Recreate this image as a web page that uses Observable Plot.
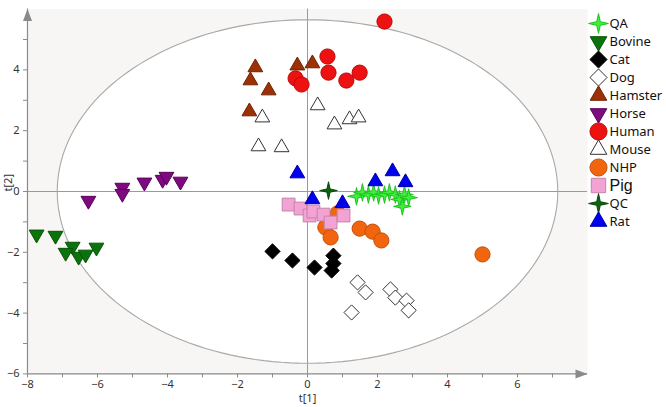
<!DOCTYPE html>
<html><head><meta charset="utf-8">
<script src="https://cdn.jsdelivr.net/npm/d3@7"></script>
<script src="https://cdn.jsdelivr.net/npm/@observablehq/plot@0.6"></script>
<style>
html,body{margin:0;padding:0;background:#fff;}
#wrap{position:relative;width:666px;height:407px;overflow:hidden;}
#legend{position:absolute;left:588px;top:0;}
#legend svg{background:transparent !important;}
</style></head>
<body><div id="wrap"><div id="chart"></div><div id="legend"></div></div>
<script>
// ---- data (t[1], t[2]) ----
const categories = ["QA","Bovine","Cat","Dog","Hamster","Horse","Human","Mouse","NHP","Pig","QC","Rat"];
const QA = [[1.40,-0.16],[1.57,-0.03],[1.74,-0.10],[1.89,-0.03],[2.03,-0.13],[2.20,-0.10],[2.34,-0.03],[2.51,-0.10],[2.63,-0.26],[2.77,-0.10],[2.89,-0.20],[2.71,-0.49]];
const Bovine = [[-7.74,-1.41],[-7.20,-1.45],[-6.71,-1.81],[-6.91,-2.01],[-6.54,-2.14],[-6.34,-2.07],[-6.03,-1.84]];
const Cat = [[-1.00,-1.97],[-0.43,-2.27],[0.20,-2.50],[0.74,-2.11],[0.74,-2.37],[0.69,-2.60]];
const Dog = [[1.43,-2.99],[1.66,-3.32],[2.37,-3.22],[2.51,-3.49],[2.83,-3.59],[2.89,-3.91],[1.26,-3.98]];
const Hamster = [[-1.49,4.08],[-1.63,3.65],[-1.11,3.32],[-1.66,2.63],[-0.29,4.14],[0.14,4.21]];
const Horse = [[-6.26,-0.30],[-5.29,0.13],[-5.29,-0.07],[-4.66,0.30],[-4.14,0.39],[-4.03,0.49],[-3.63,0.33]];
const Human = [[2.20,5.59],[0.57,4.44],[0.60,3.91],[1.11,3.65],[1.49,3.91],[-0.34,3.72],[-0.17,3.52]];
const Mouse = [[0.29,2.83],[-1.29,2.43],[0.77,2.20],[1.20,2.37],[1.46,2.43],[-1.40,1.48],[-0.74,1.45]];
const NHP = [[0.51,-1.18],[0.66,-1.51],[0.86,-0.72],[1.49,-1.22],[1.86,-1.32],[2.11,-1.61],[5.00,-2.07]];
const Pig = [[-0.54,-0.43],[-0.20,-0.56],[0.06,-0.79],[0.17,-0.66],[0.46,-0.76],[0.66,-1.02],[1.03,-0.79]];
const QC = [[0.60,0.03]];
const Rat = [[-0.29,0.59],[1.94,0.33],[2.43,0.66],[2.80,0.30],[0.14,-0.26],[1.00,-0.39]];
const xTicks = [-8,-6,-4,-2,0,2,4,6];
const yTicks = [-6,-4,-2,0,2,4];
const xMinorTicks = [-7,-5,-3,-1,1,3,5,7];
const yMinorTicks = [-5,-3,-1,1,3,5];
const xDomain = [-8, 8];
const yDomain = [-6, 6];
const ELL_A = 7.15, ELL_B = 5.65; // Hotelling T2 ellipse semi-axes

const series = {QA,Bovine,Cat,Dog,Hamster,Horse,Human,Mouse,NHP,Pig,QC,Rat};
const points = categories.flatMap(s => series[s].map(([x,y]) => ({s, x, y})));

// ---- symbols ----
const rad = size => Math.sqrt(size / Math.PI);
const symCircle = {draw(c,size){const r=rad(size)*0.95; c.moveTo(r,0); c.arc(0,0,r,0,2*Math.PI);}};
const symTriUp = {draw(c,size){const r=rad(size); const s=r*1.85, h=s*Math.sqrt(3)/2; c.moveTo(0,-2*h/3); c.lineTo(s/2,h/3); c.lineTo(-s/2,h/3); c.closePath();}};
const symTriDown = {draw(c,size){const r=rad(size); const s=r*1.85, h=s*Math.sqrt(3)/2; c.moveTo(0,2*h/3); c.lineTo(s/2,-h/3); c.lineTo(-s/2,-h/3); c.closePath();}};
const symDiamond = {draw(c,size){const r=rad(size)*0.95; c.moveTo(0,-r); c.lineTo(r,0); c.lineTo(0,r); c.lineTo(-r,0); c.closePath();}};
const symSquare = {draw(c,size){const h=rad(size)*0.8; c.moveTo(-h,-h); c.lineTo(h,-h); c.lineTo(h,h); c.lineTo(-h,h); c.closePath();}};
const symStar4 = {draw(c,size){const r=rad(size); const o=r*1.1, i=r*0.28;
  for(let k=0;k<8;k++){const a=-Math.PI/2+k*Math.PI/4; const rr=k%2?i:o; const px=rr*Math.cos(a), py=rr*Math.sin(a); if(k===0)c.moveTo(px,py); else c.lineTo(px,py);} c.closePath();}};
const symArrowRight = {draw(c){c.moveTo(0,0); c.lineTo(-12,-4.5); c.lineTo(-12,4.5); c.closePath();}};
const symArrowUp = {draw(c){c.moveTo(0,0); c.lineTo(-4.5,12); c.lineTo(4.5,12); c.closePath();}};

const symbolOf = {QA:symStar4,Bovine:symTriDown,Cat:symDiamond,Dog:symDiamond,Hamster:symTriUp,Horse:symTriDown,Human:symCircle,Mouse:symTriUp,NHP:symCircle,Pig:symSquare,QC:symStar4,Rat:symTriUp};
const fillOf = {QA:"#3cf03c",Bovine:"#0b730b",Cat:"#000000",Dog:"#ffffff",Hamster:"#9c3106",Horse:"#7e0a80",Human:"#ee1111",Mouse:"#ffffff",NHP:"#f2650f",Pig:"#f2a3d3",QC:"#0e620e",Rat:"#0000ee"};
const strokeOf = {QA:"#20c020",Bovine:"#075207",Cat:"#000000",Dog:"#333333",Hamster:"#6e2204",Horse:"#5a005c",Human:"#bb0808",Mouse:"#333333",NHP:"#c84e05",Pig:"#c583a9",QC:"#0a480a",Rat:"#0000a8"};

const symbolScale = {domain: categories, range: categories.map(c => symbolOf[c])};
const ellipse = d3.range(0, 361, 2).map(t => ({x: ELL_A*Math.cos(t*Math.PI/180), y: ELL_B*Math.sin(t*Math.PI/180)}));

const chart = Plot.plot({
  width: 666, height: 407,
  marginLeft: 27, marginRight: 79, marginTop: 8.6, marginBottom: 33.6,
  style: {fontFamily: "Noto Sans", fontSize: "11px", background: "white"},
  x: {domain: xDomain, axis: null},
  y: {domain: yDomain, axis: null},
  color: {type: "identity"},
  symbol: symbolScale,
  marks: [
    Plot.frame({fill: "#f8f6f5", stroke: null}),
    Plot.line(ellipse, {x: "x", y: "y", fill: "white", stroke: "none"}),
    Plot.ruleX([0], {stroke: "#9a9a9a", strokeWidth: 1}),
    Plot.ruleY([0], {stroke: "#9a9a9a", strokeWidth: 1}),
    Plot.line(ellipse, {x: "x", y: "y", stroke: "#a8a8a8", strokeWidth: 1.1}),
    Plot.ruleY([yDomain[0]], {stroke: "#8a8a8a", strokeWidth: 1.2}),
    Plot.ruleX([xDomain[0]], {stroke: "#8a8a8a", strokeWidth: 1.2}),
    Plot.dot([xDomain[1]], {x: d => d, y: () => yDomain[0], symbol: symArrowRight, fill: "#8a8a8a", stroke: "none"}),
    Plot.dot([yDomain[1]], {x: () => xDomain[0], y: d => d, symbol: symArrowUp, fill: "#8a8a8a", stroke: "none"}),
    Plot.axisX({ticks: [...xTicks, ...xMinorTicks], tickSize: 4, tickFormat: () => "", color: "#8a8a8a", label: null}),
    Plot.axisX({ticks: xTicks, tickSize: 0, tickPadding: 6, color: "#333", label: null, fontSize: 11}),
    Plot.axisY({ticks: [...yTicks, ...yMinorTicks], tickSize: 4, tickFormat: () => "", color: "#8a8a8a", label: null}),
    Plot.axisY({ticks: yTicks, tickSize: 0, tickPadding: 8, color: "#333", label: null, fontSize: 11}),
    Plot.text(["t[1]"], {frameAnchor: "bottom", dy: 28, text: d => d, fill: "#333", fontSize: 11}),
    Plot.text(["t[2]"], {frameAnchor: "left", dx: -19, rotate: -90, text: d => d, fill: "#333", fontSize: 11}),
    Plot.dot(points, {x: "x", y: "y", symbol: "s", fill: d => fillOf[d.s], stroke: d => strokeOf[d.s], r: 8, strokeWidth: 1})
  ]
});
document.getElementById("chart").appendChild(chart);

// ---- legend ----
const legendText = categories.filter(c => c !== "Pig");
const legend = Plot.plot({
  width: 78, height: 245, margin: 0,
  style: {background: "transparent"},
  x: {domain: [0, 78], range: [0, 78], axis: null},
  y: {type: "point", domain: categories, range: [13, 230], axis: null},
  color: {type: "identity"},
  symbol: symbolScale,
  marks: [
    Plot.dot(categories, {x: () => 10, y: d => d, symbol: d => d, fill: d => fillOf[d], stroke: d => strokeOf[d], r: 9, strokeWidth: 1}),
    Plot.text(legendText, {x: () => 21, y: d => d, text: d => d, textAnchor: "start", fontSize: 13, fontFamily: "Noto Sans", fill: "#111"}),
    Plot.text(["Pig"], {x: () => 21, y: d => d, text: d => d, textAnchor: "start", fontSize: 16, fontFamily: "Liberation Sans", fill: "#111"})
  ]
});
document.getElementById("legend").appendChild(legend);
</script>
</body></html>
